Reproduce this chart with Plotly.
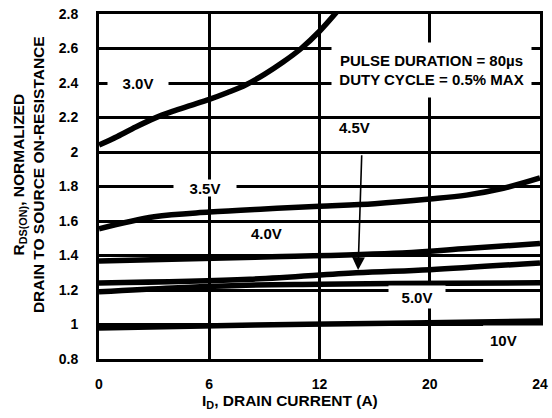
import plotly.graph_objects as go

# ---- data ----
x_30v = [0, 1, 2, 3, 4, 5, 6, 7, 8, 9, 10, 11, 12, 13]
y_30v = [2.04, 2.09, 2.145, 2.195, 2.235, 2.27, 2.305, 2.345, 2.39, 2.45, 2.52, 2.6, 2.7, 2.82]
x_35v = [0, 3, 6, 9, 12, 15, 18, 20, 22, 24]
y_35v = [1.555, 1.625, 1.652, 1.67, 1.685, 1.70, 1.727, 1.75, 1.79, 1.85]
x_40v = [0, 8.5, 16.5, 20, 24]
y_40v = [1.368, 1.39, 1.415, 1.44, 1.47]
x_45v = [0, 8.2, 14, 18, 24]
y_45v = [1.24, 1.262, 1.30, 1.318, 1.357]
x_50v = [0, 4, 8, 12, 16, 24]
y_50v = [1.19, 1.212, 1.228, 1.233, 1.238, 1.242]
x_10v = [0, 8.5, 17, 24]
y_10v = [0.98, 0.997, 1.008, 1.02]

x_tickvals = [0, 6, 12, 18, 24]
x_ticktext = ["0", "6", "12", "20", "24"]
y_tickvals = [0.8, 1.0, 1.2, 1.4, 1.6, 1.8, 2.0, 2.2, 2.4, 2.6, 2.8]
y_ticktext = ["0.8", "1", "1.2", "1.4", "1.6", "1.8", "2", "2.2", "2.4", "2.6", "2.8"]

FONT = "Liberation Sans, Arial, sans-serif"

fig = go.Figure()
for xs, ys in [(x_30v, y_30v), (x_35v, y_35v), (x_40v, y_40v),
               (x_45v, y_45v), (x_50v, y_50v), (x_10v, y_10v)]:
    fig.add_trace(go.Scatter(x=xs, y=ys, mode="lines",
                             line=dict(color="black", width=5.5, shape="spline"),
                             showlegend=False, hoverinfo="skip"))

axis_common = dict(showgrid=True, gridcolor="black", gridwidth=3,
                   showline=True, linecolor="black", linewidth=3, mirror=True,
                   zeroline=False, ticks="", automargin=False,
                   tickfont=dict(family=FONT, size=14, color="black", weight="bold"))

fig.update_xaxes(range=[0, 24], tickmode="array", tickvals=x_tickvals,
                 ticktext=x_ticktext, ticklabelstandoff=10, **axis_common)
fig.update_yaxes(range=[0.8, 2.8], tickmode="array", tickvals=y_tickvals,
                 ticktext=y_ticktext, ticklabelstandoff=15, **axis_common)

lab = dict(family=FONT, size=15, color="black", weight="bold")

annotations = [
    dict(x=2.12, y=2.4, text="3.0V", bgcolor="white", width=58, height=14),
    dict(x=5.77, y=1.79, text="3.5V", bgcolor="white", width=60, height=14),
    dict(x=9.1, y=1.53, text="4.0V"),
    dict(x=13.9, y=2.14, text="4.5V"),
    dict(x=17.3, y=1.16, text="5.0V", bgcolor="white", width=54, height=20),
    dict(x=22.0, y=0.905, text="10V"),
    dict(x=18.09, y=2.4725, text="PULSE DURATION = 80µs<br>DUTY CYCLE = 0.5% MAX",
         bgcolor="white", width=197, height=52),
]
for a in annotations:
    fig.add_annotation(xref="x", yref="y", showarrow=False, font=lab,
                       borderpad=1, **a)

# arrow from 4.5V label to its curve
fig.add_annotation(x=14.1, y=1.316, ax=14.3, ay=1.99, axref="x", ayref="y",
                   xref="x", yref="y", text="", showarrow=True,
                   arrowhead=2, arrowsize=1.6, arrowwidth=1.6, arrowcolor="black",
                   standoff=0)

# white patch where the frame is broken around the 10V label
fig.add_shape(type="rect", xref="paper", yref="paper",
              x0=0.871, x1=1.05, y0=-0.02, y1=0.097,
              fillcolor="white", line=dict(width=0), layer="above")

title_font = dict(family=FONT, size=15.5, color="black", weight="bold")
fig.add_annotation(xref="paper", yref="paper", x=-0.161, y=0.536,
                   text="R<sub>DS(ON)</sub>, NORMALIZED<br>DRAIN TO SOURCE ON-RESISTANCE",
                   textangle=-90, showarrow=False, font=title_font,
                   xanchor="center", yanchor="middle")
fig.add_annotation(xref="paper", yref="paper", x=0.433, y=-0.122,
                   text="I<sub>D</sub>, DRAIN CURRENT (A)",
                   showarrow=False, font=title_font,
                   xanchor="center", yanchor="middle")

fig.update_layout(width=552, height=418,
                  margin=dict(l=99, r=12, t=14, b=59, autoexpand=False),
                  paper_bgcolor="white", plot_bgcolor="white")

fig.write_html("out.html", config={"displayModeBar": False},
               post_script="document.body.style.margin='0px';document.body.style.padding='0px';")
